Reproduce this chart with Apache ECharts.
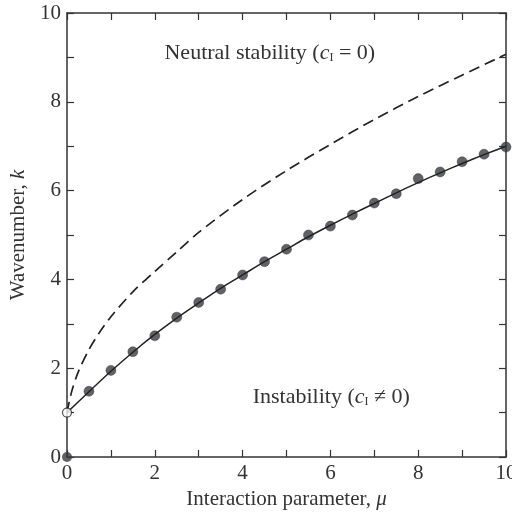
<!DOCTYPE html>
<html>
<head>
<meta charset="utf-8">
<script src="https://cdn.jsdelivr.net/npm/echarts@6/dist/echarts.min.js"></script>
<style>
  html, body { margin: 0; padding: 0; background: #fff; }
  #main { width: 512px; height: 515px; }
</style>
</head>
<body>
<div id="main"></div>
<script>
// solid curve (instability boundary)
var solidMu = [0, 0.5, 1, 1.5, 2, 2.5, 3, 3.5, 4, 4.5, 5, 5.5, 6, 6.5, 7, 7.5, 8, 8.5, 9, 9.5, 10];
var solidK  = [1, 1.47, 1.93, 2.36, 2.76, 3.13, 3.47, 3.8, 4.1, 4.4, 4.68, 4.96, 5.22, 5.47, 5.71, 5.95, 6.18, 6.4, 6.61, 6.81, 7.0];
// computed points (filled dots)
var dotMu = [0.5, 1, 1.5, 2, 2.5, 3, 3.5, 4, 4.5, 5, 5.5, 6, 6.5, 7, 7.5, 8, 8.5, 9, 9.5, 10];
var dotK  = [1.48, 1.95, 2.37, 2.73, 3.15, 3.48, 3.78, 4.1, 4.4, 4.68, 5.0, 5.2, 5.45, 5.72, 5.93, 6.27, 6.42, 6.65, 6.82, 6.98];
// dashed curve (neutral stability)
var dashMu = [0, 0.1, 0.25, 0.5, 0.75, 1, 1.5, 2, 2.5, 3, 4, 5, 6, 7, 8, 9, 10];
var dashK  = [1, 1.45, 1.9, 2.42, 2.82, 3.16, 3.72, 4.18, 4.62, 5.06, 5.8, 6.45, 7.04, 7.6, 8.12, 8.6, 9.07];
var tickVals = [0, 2, 4, 6, 8, 10];

function pairs(xs, ys) {
  return xs.map(function (x, i) { return [x, ys[i]]; });
}

var dom = document.getElementById('main');
var myChart = echarts.init(dom, null, { renderer: 'canvas' });

var serif = '"Liberation Serif", "DejaVu Serif", serif';
var ink = '#333';

function evenLabel(v) {
  return tickVals.indexOf(v) >= 0 ? String(v) : '';
}

var boxAxis = {
  min: 0, max: 10, interval: 1,
  axisLine: { show: true, onZero: false, lineStyle: { color: ink, width: 1.5 } },
  axisTick: { show: true, inside: true, length: 7, lineStyle: { color: ink, width: 1.2 } },
  splitLine: { show: false }
};

var nameRich = {
  r: { fontFamily: serif, fontSize: 21, color: ink },
  i: { fontFamily: serif, fontSize: 21, color: ink, fontStyle: 'italic' }
};

var option = {
  backgroundColor: '#fff',
  animation: false,
  grid: { left: 67, right: 6, top: 13, bottom: 58, outerBoundsMode: 'none' },
  xAxis: [
    Object.assign({}, boxAxis, {
      type: 'value', position: 'bottom',
      name: '{r|Interaction parameter, }{i|μ}',
      nameLocation: 'middle', nameGap: 32,
      nameTextStyle: { rich: nameRich },
      axisLabel: { formatter: evenLabel, fontFamily: serif, fontSize: 21, color: ink, margin: 6 }
    }),
    Object.assign({}, boxAxis, {
      type: 'value', position: 'top', axisLabel: { show: false }
    })
  ],
  yAxis: [
    Object.assign({}, boxAxis, {
      type: 'value', position: 'left',
      name: '{r|Wavenumber, }{i|k}',
      nameLocation: 'middle', nameGap: 28, nameRotate: 90,
      nameTextStyle: { rich: nameRich },
      axisLabel: { formatter: evenLabel, fontFamily: serif, fontSize: 21, color: ink, margin: 6 }
    }),
    Object.assign({}, boxAxis, {
      type: 'value', position: 'right', axisLabel: { show: false }
    })
  ],
  series: [
    {
      type: 'line', name: 'neutral',
      data: pairs(dashMu, dashK), smooth: 0.3, showSymbol: false,
      lineStyle: { color: '#222', width: 1.7, type: [11, 6] }
    },
    {
      type: 'line', name: 'boundary',
      data: pairs(solidMu, solidK), smooth: 0.3, showSymbol: false,
      lineStyle: { color: '#222', width: 1.5 }
    },
    {
      type: 'scatter', name: 'computed',
      data: pairs(dotMu, dotK), symbolSize: 10,
      itemStyle: { color: '#383b3e', borderColor: '#2a2a2a', borderWidth: 0.5 }
    },
    {
      type: 'scatter', name: 'origin',
      data: [[0, 0]], symbolSize: 10, clip: false,
      itemStyle: { color: '#383b3e' }
    },
    {
      type: 'scatter', name: 'start',
      data: [[0, 1]], symbolSize: 9, clip: false, z: 5,
      itemStyle: { color: '#fff', borderColor: '#222', borderWidth: 1.2 }
    }
  ]
};

myChart.setOption(option);

function place(mu, k) { return myChart.convertToPixel({ gridIndex: 0 }, [mu, k]); }
var rich = {
  r: { fontFamily: serif, fontSize: 22, fill: ink },
  i: { fontFamily: serif, fontSize: 22, fill: ink, fontStyle: 'italic' },
  s: { fontFamily: serif, fontSize: 12, fill: ink, padding: [9, 0, 0, 0] }
};
var p1 = place(4.62, 9.1);
var p2 = place(6.02, 1.34);
myChart.setOption({
  graphic: [
    { type: 'text', x: p1[0], y: p1[1], style: {
      text: '{r|Neutral stability (}{i|c}{s|I}{r| = 0)}', rich: rich,
      align: 'center', verticalAlign: 'middle' } },
    { type: 'text', x: p2[0], y: p2[1], style: {
      text: '{r|Instability (}{i|c}{s|I}{r| ≠ 0)}', rich: rich,
      align: 'center', verticalAlign: 'middle' } }
  ]
});
</script>
</body>
</html>
